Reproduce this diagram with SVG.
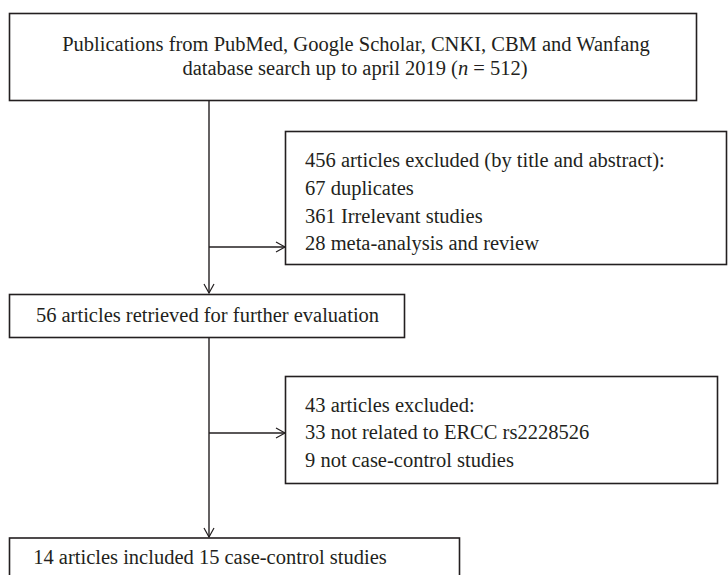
<svg xmlns="http://www.w3.org/2000/svg" width="728" height="575" viewBox="0 0 728 575">
<defs>
<marker id="arr" markerWidth="12" markerHeight="12" refX="10" refY="6" orient="auto" markerUnits="userSpaceOnUse">
<path d="M1,1 L10,6 L1,11" fill="none" stroke="#231f20" stroke-width="1.2"/>
</marker>
<style>
.box{fill:#fff;stroke:#231f20;stroke-width:1.6}
.t{font-family:"Liberation Serif","Times New Roman",serif;font-size:20.5px;fill:#231f20}
.c{text-anchor:middle}
.ln{fill:none;stroke:#231f20;stroke-width:1.4}
</style>
</defs>
<g id="connectors">
<line class="ln" x1="209" y1="101" x2="209" y2="293" marker-end="url(#arr)"/>
<line class="ln" x1="209" y1="247" x2="285" y2="247" marker-end="url(#arr)"/>
<line class="ln" x1="209" y1="338" x2="209" y2="537" marker-end="url(#arr)"/>
<line class="ln" x1="209" y1="433" x2="285" y2="433" marker-end="url(#arr)"/>
</g>
<g id="n1">
<rect class="box" x="9.5" y="13.5" width="687" height="87"/>
<text class="t c" x="356" y="51">Publications from PubMed, Google Scholar, CNKI, CBM and Wanfang</text>
<text class="t c" x="355" y="75">database search up to april 2019 (<tspan font-style="italic">n</tspan> = 512)</text>
</g>
<g id="n2">
<rect class="box" x="285.5" y="131.5" width="441" height="133"/>
<text class="t" x="305" y="167">456 articles excluded (by title and abstract):</text>
<text class="t" x="305" y="195">67 duplicates</text>
<text class="t" x="305" y="223">361 Irrelevant studies</text>
<text class="t" x="305" y="250">28 meta-analysis and review</text>
</g>
<g id="n3">
<rect class="box" x="9.5" y="294.5" width="395" height="43"/>
<text class="t c" x="207.5" y="322">56 articles retrieved for further evaluation</text>
</g>
<g id="n4">
<rect class="box" x="285.5" y="376.5" width="432" height="107"/>
<text class="t" x="305" y="412">43 articles excluded:</text>
<text class="t" x="305" y="439">33 not related to ERCC rs2228526</text>
<text class="t" x="305" y="467">9 not case-control studies</text>
</g>
<g id="n5">
<rect class="box" x="9.5" y="538" width="450" height="50"/>
<text class="t c" x="210" y="564">14 articles included 15 case-control studies</text>
</g>
</svg>
